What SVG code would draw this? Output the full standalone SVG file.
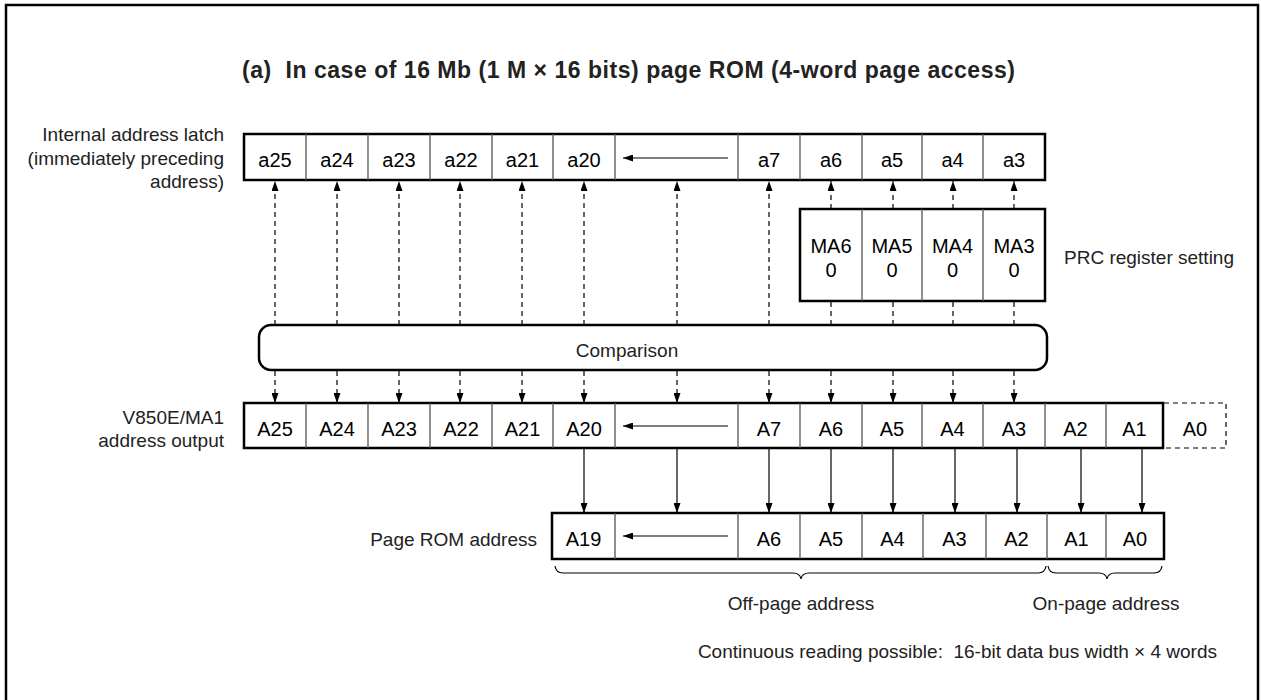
<svg xmlns="http://www.w3.org/2000/svg" width="1261" height="700" viewBox="0 0 1261 700">
<style>
text{font-family:"Liberation Sans",Arial,sans-serif;fill:#222;white-space:pre}
.t{font-size:19px}
.c{font-size:20px;text-anchor:middle;fill:#000}
.r{text-anchor:end}
.m{text-anchor:middle}
.box{fill:none;stroke:#000;stroke-width:2.5}
.div{stroke:#555;stroke-width:1.3}
.dash{stroke:#000;stroke-width:1.2;stroke-dasharray:5 4;fill:none}
.sol{stroke:#000;stroke-width:1.2;fill:none}
</style>
<defs>
<marker id="ah" markerUnits="userSpaceOnUse" markerWidth="10" markerHeight="7" refX="10" refY="3.5" orient="auto">
<path d="M0,0 L10,3.5 L0,7 z" fill="#000"/>
</marker>
</defs>
<rect x="6" y="5" width="1252" height="720" fill="#fff" stroke="#000" stroke-width="2.5"/>
<text x="242" y="78" font-size="23" font-weight="bold" fill="#000" textLength="773" lengthAdjust="spacing" xml:space="preserve">(a)  In case of 16 Mb (1 M × 16 bits) page ROM (4-word page access)</text>

<g id="label-latch">
<text class="t r" x="224" y="141">Internal address latch</text>
<text class="t r" x="224" y="165">(immediately preceding</text>
<text class="t r" x="224" y="188">address)</text>
</g>

<g id="latch-row">
<rect class="box" x="244" y="134" width="801" height="46"/>
<path class="div" d="M306,134V180M368,134V180M430,134V180M492,134V180M553,134V180M615,134V180M738,134V180M800,134V180M862,134V180M922,134V180M983,134V180"/>
<text class="c" x="275" y="167">a25</text>
<text class="c" x="337" y="167">a24</text>
<text class="c" x="399" y="167">a23</text>
<text class="c" x="461" y="167">a22</text>
<text class="c" x="522.5" y="167">a21</text>
<text class="c" x="584" y="167">a20</text>
<line class="sol" x1="728" y1="158" x2="623" y2="158" marker-end="url(#ah)"/>
<text class="c" x="769" y="167">a7</text>
<text class="c" x="831" y="167">a6</text>
<text class="c" x="892" y="167">a5</text>
<text class="c" x="952.5" y="167">a4</text>
<text class="c" x="1014" y="167">a3</text>
</g>

<g id="prc-box">
<rect class="box" x="800" y="209" width="245" height="92"/>
<path class="div" d="M862,209V301M922,209V301M983,209V301"/>
<text class="c" x="831" y="253">MA6</text>
<text class="c" x="831" y="277">0</text>
<text class="c" x="892" y="253">MA5</text>
<text class="c" x="892" y="277">0</text>
<text class="c" x="952.5" y="253">MA4</text>
<text class="c" x="952.5" y="277">0</text>
<text class="c" x="1014" y="253">MA3</text>
<text class="c" x="1014" y="277">0</text>
</g>
<g id="label-prc">
<text class="t" x="1064" y="264">PRC register setting</text>
</g>

<g id="comparison">
<rect class="box" x="259" y="325" width="788" height="45" rx="12"/>
<text class="t m" x="627" y="357">Comparison</text>
</g>

<g id="label-v850">
<text class="t r" x="224" y="424">V850E/MA1</text>
<text class="t r" x="224" y="447">address output</text>
</g>

<g id="address-row">
<rect class="box" x="244" y="403" width="919" height="45"/>
<path class="div" d="M306,403V448M368,403V448M430,403V448M492,403V448M553,403V448M615,403V448M738,403V448M800,403V448M862,403V448M922,403V448M983,403V448M1045,403V448M1106,403V448"/>
<path class="dash" d="M1164,403H1226V448H1164"/>
<text class="c" x="275" y="436">A25</text>
<text class="c" x="337" y="436">A24</text>
<text class="c" x="399" y="436">A23</text>
<text class="c" x="461" y="436">A22</text>
<text class="c" x="522.5" y="436">A21</text>
<text class="c" x="584" y="436">A20</text>
<line class="sol" x1="728" y1="426" x2="623" y2="426" marker-end="url(#ah)"/>
<text class="c" x="769" y="436">A7</text>
<text class="c" x="831" y="436">A6</text>
<text class="c" x="892" y="436">A5</text>
<text class="c" x="952.5" y="436">A4</text>
<text class="c" x="1014" y="436">A3</text>
<text class="c" x="1075.5" y="436">A2</text>
<text class="c" x="1134.5" y="436">A1</text>
<text class="c" x="1195" y="436">A0</text>
</g>

<g id="label-pagerom">
<text class="t r" x="537" y="546">Page ROM address</text>
</g>

<g id="pagerom-row">
<rect class="box" x="552" y="513" width="612" height="46"/>
<path class="div" d="M615,513V559M738,513V559M800,513V559M862,513V559M923,513V559M986,513V559M1047,513V559M1106,513V559"/>
<text class="c" x="583.5" y="546">A19</text>
<line class="sol" x1="728" y1="536" x2="623" y2="536" marker-end="url(#ah)"/>
<text class="c" x="769" y="546">A6</text>
<text class="c" x="831" y="546">A5</text>
<text class="c" x="892.5" y="546">A4</text>
<text class="c" x="954.5" y="546">A3</text>
<text class="c" x="1016.5" y="546">A2</text>
<text class="c" x="1076.5" y="546">A1</text>
<text class="c" x="1135" y="546">A0</text>
</g>

<g id="connectors">
<g class="dash">
<line x1="275" y1="325" x2="275" y2="181" marker-end="url(#ah)"/>
<line x1="337" y1="325" x2="337" y2="181" marker-end="url(#ah)"/>
<line x1="399" y1="325" x2="399" y2="181" marker-end="url(#ah)"/>
<line x1="460" y1="325" x2="460" y2="181" marker-end="url(#ah)"/>
<line x1="522" y1="325" x2="522" y2="181" marker-end="url(#ah)"/>
<line x1="584" y1="325" x2="584" y2="181" marker-end="url(#ah)"/>
<line x1="677" y1="325" x2="677" y2="181" marker-end="url(#ah)"/>
<line x1="769" y1="325" x2="769" y2="181" marker-end="url(#ah)"/>
<line x1="831" y1="209" x2="831" y2="181" marker-end="url(#ah)"/>
<line x1="893" y1="209" x2="893" y2="181" marker-end="url(#ah)"/>
<line x1="953" y1="209" x2="953" y2="181" marker-end="url(#ah)"/>
<line x1="1014" y1="209" x2="1014" y2="181" marker-end="url(#ah)"/>
<path d="M831,302V325M893,302V325M953,302V325M1014,302V325"/>
<line x1="275" y1="371" x2="275" y2="403" marker-end="url(#ah)"/>
<line x1="337" y1="371" x2="337" y2="403" marker-end="url(#ah)"/>
<line x1="399" y1="371" x2="399" y2="403" marker-end="url(#ah)"/>
<line x1="460" y1="371" x2="460" y2="403" marker-end="url(#ah)"/>
<line x1="522" y1="371" x2="522" y2="403" marker-end="url(#ah)"/>
<line x1="584" y1="371" x2="584" y2="403" marker-end="url(#ah)"/>
<line x1="677" y1="371" x2="677" y2="403" marker-end="url(#ah)"/>
<line x1="769" y1="371" x2="769" y2="403" marker-end="url(#ah)"/>
<line x1="831" y1="371" x2="831" y2="403" marker-end="url(#ah)"/>
<line x1="893" y1="371" x2="893" y2="403" marker-end="url(#ah)"/>
<line x1="953" y1="371" x2="953" y2="403" marker-end="url(#ah)"/>
<line x1="1014" y1="371" x2="1014" y2="403" marker-end="url(#ah)"/>
</g>
<g class="sol">
<line x1="584" y1="449" x2="584" y2="513" marker-end="url(#ah)"/>
<line x1="677" y1="449" x2="677" y2="513" marker-end="url(#ah)"/>
<line x1="769" y1="449" x2="769" y2="513" marker-end="url(#ah)"/>
<line x1="831" y1="449" x2="831" y2="513" marker-end="url(#ah)"/>
<line x1="893" y1="449" x2="893" y2="513" marker-end="url(#ah)"/>
<line x1="955" y1="449" x2="955" y2="513" marker-end="url(#ah)"/>
<line x1="1017" y1="449" x2="1017" y2="513" marker-end="url(#ah)"/>
<line x1="1081" y1="449" x2="1081" y2="513" marker-end="url(#ah)"/>
<line x1="1142" y1="449" x2="1142" y2="513" marker-end="url(#ah)"/>
</g>
</g>

<g id="brace-offpage">
<path class="sol" d="M555,566 Q556,573 563,573 L793,573 Q800,573 801,579 Q802,573 809,573 L1038,573 Q1045,573 1046,566"/>
<text class="t m" x="801" y="610">Off-page address</text>
</g>
<g id="brace-onpage">
<path class="sol" d="M1048,566 Q1049,573 1056,573 L1099,573 Q1106,573 1107,579 Q1108,573 1115,573 L1154,573 Q1161,573 1162,566"/>
<text class="t m" x="1106" y="610">On-page address</text>
</g>
<g id="note">
<text class="t r" x="1217" y="658" xml:space="preserve">Continuous reading possible:  16-bit data bus width × 4 words</text>
</g>
</svg>
